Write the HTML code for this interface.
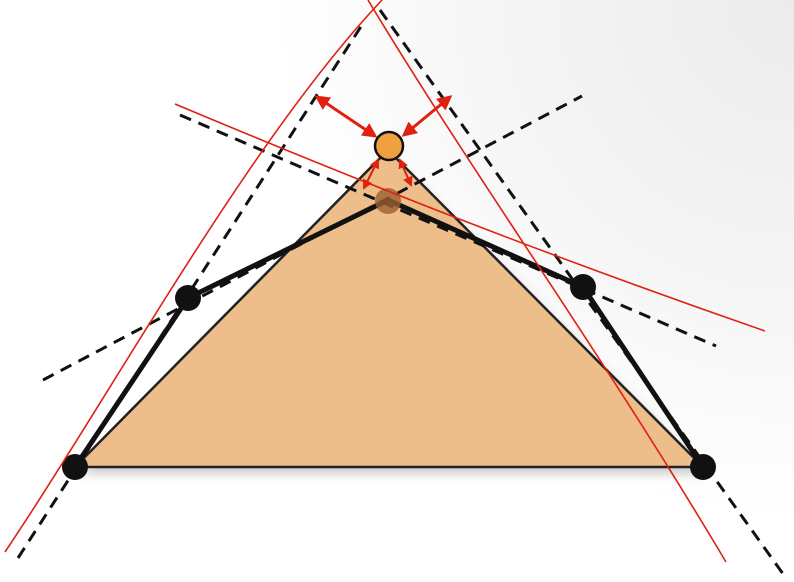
<!DOCTYPE html>
<html><head><meta charset="utf-8"><style>
html,body{margin:0;padding:0;background:#fff;}
svg{display:block;}
</style></head><body>
<svg width="794" height="582" viewBox="0 0 794 582">
<defs>
<radialGradient id="bg" cx="794" cy="0" r="520" gradientUnits="userSpaceOnUse">
<stop offset="0" stop-color="#ebebeb"/><stop offset="0.6" stop-color="#f6f6f6"/><stop offset="1" stop-color="#ffffff"/>
</radialGradient>
<filter id="sh" x="-10%" y="-10%" width="120%" height="130%"><feGaussianBlur stdDeviation="5"/></filter>
<marker id="ah" viewBox="0 0 10 10" refX="8" refY="5" markerWidth="5" markerHeight="5" orient="auto-start-reverse"><path d="M0,0 L10,5 L0,10 z" fill="#e02010"/></marker>
</defs>
<rect width="794" height="582" fill="url(#bg)"/>
<polygon points="80,474 390,158 708,474" fill="#999" opacity="0.5" filter="url(#sh)"/>
<polygon points="75,467 388,150 703,467" fill="#EDBD8A" stroke="#222" stroke-width="2.5"/>
<g stroke="#111" stroke-width="3" stroke-dasharray="12,8" fill="none">
<line x1="18" y1="558" x2="362" y2="25"/>
<line x1="43" y1="380" x2="582" y2="96"/>
<line x1="180" y1="115" x2="716" y2="346"/>
<line x1="380" y1="10" x2="786" y2="578"/>
</g>
<polyline points="75,467 188,298 388,200 583,287 703,467" fill="none" stroke="#111" stroke-width="5" stroke-linejoin="round"/>
<circle cx="388" cy="201" r="13" fill="#9a6030" opacity="0.8"/>
<circle cx="75" cy="467" r="13" fill="#111"/>
<circle cx="188" cy="298" r="13" fill="#111"/>
<circle cx="583" cy="287" r="13" fill="#111"/>
<circle cx="703" cy="467" r="13" fill="#111"/>
<g stroke="#e02010" stroke-width="1.6" fill="none">
<path d="M5,552 C120,380 250,140 382,0"/>
<path d="M175,104 C380,190 560,260 765,331"/>
<path d="M368,0 C470,170 600,350 726,562"/>
</g>
<g stroke="#e02010" stroke-width="3" marker-start="url(#ah)" marker-end="url(#ah)">
<line x1="375" y1="136" x2="317" y2="97"/>
<line x1="404" y1="135" x2="450" y2="97"/>
<line x1="378" y1="160" x2="364" y2="188" stroke-width="2"/>
<line x1="400" y1="160" x2="411" y2="185" stroke-width="2"/>
</g>
<circle cx="389" cy="146" r="14" fill="#F0A040" stroke="#111" stroke-width="2.5"/>
</svg>
</body></html>
